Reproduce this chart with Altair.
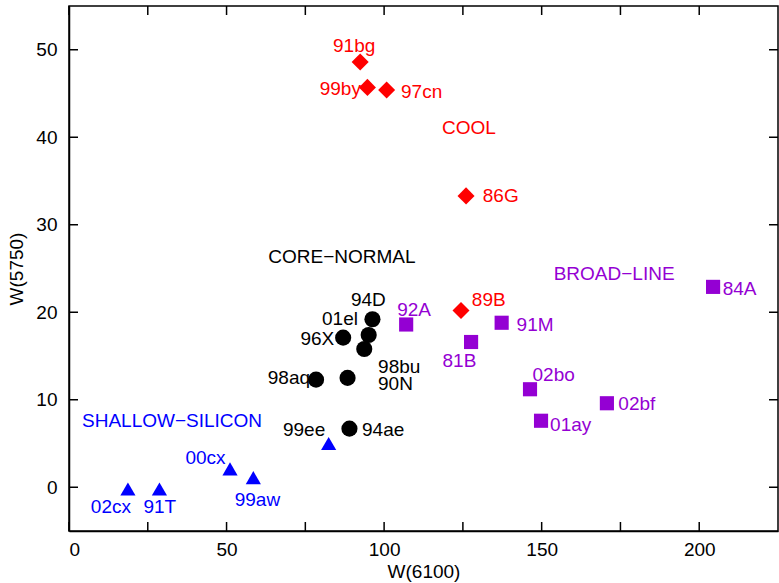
import altair as alt
import pandas as pd

# Supernova names, grouped by spectroscopic subtype
names = ["91bg", "99by", "97cn", "86G", "89B",
         "94D", "01el", "96X", "98bu", "98aq", "90N", "94ae",
         "99ee", "00cx", "99aw", "02cx", "91T",
         "92A", "81B", "91M", "02bo", "02bf", "01ay", "84A"]

# Pseudo-equivalent widths (Angstrom)
w6100 = [92.4, 94.7, 100.8, 126.0, 124.4,
         96.3, 95.1, 87.0, 93.7, 78.4, 88.4, 89.0,
         82.4, 51.1, 58.5, 18.7, 28.7,
         107.0, 127.6, 137.3, 146.3, 170.7, 149.8, 204.4]
w5750 = [48.6, 45.7, 45.4, 33.3, 20.2,
         19.2, 17.4, 17.1, 15.8, 12.3, 12.5, 6.7,
         5.0, 2.1, 1.1, -0.2, -0.2,
         18.6, 16.6, 18.8, 11.2, 9.6, 7.6, 22.9]

CL, CN, SS, BL = "COOL", "CORE\u2212NORMAL", "SHALLOW\u2212SILICON", "BROAD\u2212LINE"
subtype = [CL] * 5 + [CN] * 7 + [SS] * 5 + [BL] * 7

# Where each name label sits, in data units, and which colour it takes
label_x = [90.5, 86.1, 111.9, 137.0, 133.2,
           95.0, 86.0, 78.8, 104.8, 69.8, 103.6, 99.7,
           74.6, 43.3, 59.8, 13.3, 28.8,
           109.5, 123.9, 147.9, 153.8, 180.2, 159.2, 212.8]
label_y = [50.4, 45.5, 45.2, 33.3, 21.4,
           21.4, 19.2, 17.0, 13.8, 12.5, 11.8, 6.5,
           6.5, 3.4, -1.5, -2.3, -2.3,
           20.3, 14.4, 18.6, 12.8, 9.5, 7.1, 22.7]
label_group = [CL] * 5 + [CN] * 7 + [CN] + [SS] * 4 + [BL] * 7

# Subtype headings
group_names = [CL, CN, SS, BL]
group_x = [126.9, 86.6, 32.7, 173.0]
group_y = [41.1, 26.3, 7.6, 24.4]

x_tick_values = [0, 25, 50, 75, 100, 125, 150, 175, 200]
y_tick_values = [0, 10, 20, 30, 40, 50]
x_label_values = [0, 50, 100, 150, 200]

W, H = 709, 525
FONT = "Liberation Sans"
FS = 19
TICK = 9

pts = pd.DataFrame({"name": names, "x": w6100, "y": w5750, "grp": subtype})
labs = pd.DataFrame({"name": names, "x": label_x, "y": label_y, "grp": label_group})
heads = pd.DataFrame({"name": group_names, "x": group_x, "y": group_y, "grp": group_names})
xt = pd.DataFrame({"v": x_tick_values})
yt = pd.DataFrame({"v": y_tick_values})

xscale = alt.Scale(domain=[0, 225], nice=False, zero=False)
yscale = alt.Scale(domain=[-5, 55], nice=False, zero=False)
cscale = alt.Scale(domain=[CL, CN, SS, BL],
                   range=["#ff0000", "#000000", "#0000ff", "#9400d3"])
shscale = alt.Scale(domain=[CL, CN, SS, BL],
                    range=["diamond", "circle", "triangle-up", "square"])
szscale = alt.Scale(domain=[CL, CN, SS, BL], range=[290, 200, 330, 150])

xaxis = alt.Axis(values=x_label_values, ticks=False, tickSize=0, grid=False,
                 domainColor="black", domainWidth=1.5, labelFont=FONT,
                 labelFontSize=FS, labelColor="black", labelPadding=9,
                 title="W(6100)", titleFont=FONT, titleFontSize=FS,
                 titleFontWeight="normal", titleColor="black", titlePadding=3)
yaxis = alt.Axis(values=y_tick_values, ticks=False, tickSize=0, grid=False,
                 domainColor="black", domainWidth=1.5, labelFont=FONT,
                 labelFontSize=FS, labelColor="black", labelPadding=12,
                 title="W(5750)", titleFont=FONT, titleFontSize=FS,
                 titleFontWeight="normal", titleColor="black", titlePadding=9)

points = alt.Chart(pts).mark_point(filled=True, opacity=1, strokeWidth=0).encode(
    x=alt.X("x:Q", scale=xscale, axis=xaxis),
    y=alt.Y("y:Q", scale=yscale, axis=yaxis),
    color=alt.Color("grp:N", scale=cscale, legend=None),
    shape=alt.Shape("grp:N", scale=shscale, legend=None),
    size=alt.Size("grp:N", scale=szscale, legend=None),
)

name_text = alt.Chart(labs).mark_text(font=FONT, fontSize=FS, align="center",
                                      baseline="middle").encode(
    x=alt.X("x:Q", scale=xscale),
    y=alt.Y("y:Q", scale=yscale),
    text="name:N",
    color=alt.Color("grp:N", scale=cscale, legend=None),
)

head_text = alt.Chart(heads).mark_text(font=FONT, fontSize=FS, align="center",
                                       baseline="middle").encode(
    x=alt.X("x:Q", scale=xscale),
    y=alt.Y("y:Q", scale=yscale),
    text="name:N",
    color=alt.Color("grp:N", scale=cscale, legend=None),
)

# Inward-pointing ticks on all four sides
tb = alt.Chart(xt).mark_rule(color="black", strokeWidth=1.5).encode(
    x=alt.X("v:Q", scale=xscale), y=alt.value(H), y2=alt.value(H - TICK))
tt = alt.Chart(xt).mark_rule(color="black", strokeWidth=1.5).encode(
    x=alt.X("v:Q", scale=xscale), y=alt.value(0), y2=alt.value(TICK))
tl = alt.Chart(yt).mark_rule(color="black", strokeWidth=1.5).encode(
    y=alt.Y("v:Q", scale=yscale), x=alt.value(0), x2=alt.value(TICK))
tr = alt.Chart(yt).mark_rule(color="black", strokeWidth=1.5).encode(
    y=alt.Y("v:Q", scale=yscale), x=alt.value(W), x2=alt.value(W - TICK))

chart = alt.layer(tb, tt, tl, tr, points, name_text, head_text).properties(
    width=W, height=H,
    autosize=alt.AutoSizeParams(type="none"),
    padding={"left": 69, "top": 6, "right": 1, "bottom": 52},
    background="white",
).configure_view(stroke="black", strokeWidth=1.5)

chart.save("out.html", embed_options={"renderer": "svg", "actions": False})
